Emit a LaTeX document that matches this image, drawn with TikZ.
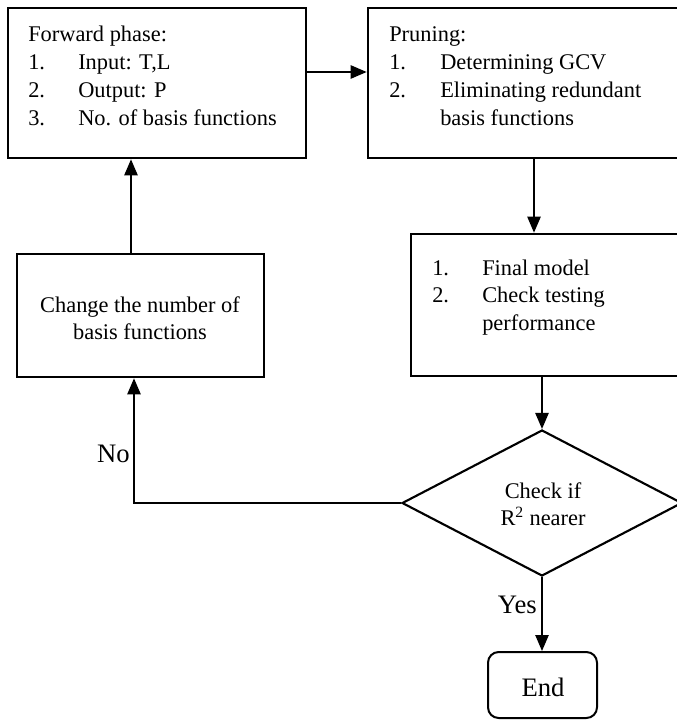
\documentclass[tikz,border=0pt]{standalone}
\usepackage{fontspec}
\setmainfont{Liberation Serif}
\usetikzlibrary{arrows.meta,shapes.geometric,fit}
\begin{document}
\begin{tikzpicture}[x=0.75pt,y=-0.75pt,
  box/.style={draw, line width=2pt, inner sep=0pt},
  conn/.style={line width=1.1pt},
  arr/.style={conn, -{Triangle[length=12pt,width=10pt]}},
  txt/.style={inner sep=0pt, font=\fontsize{16.8}{20.8}\selectfont},
  big/.style={inner sep=0pt, font=\fontsize{20}{24}\selectfont},
  lbl/.style={txt, anchor=base west},
  ctr/.style={txt, anchor=base}]
\clip (0,0) rectangle (677,720);

% process boxes
\node[box, fit={(8,8) (306,158)}] (fwd) {};
\node[box, fit={(368,8) (700,158)}] (prune) {};
\node[box, fit={(411,234) (700,376)}] (final) {};
\node[box, fit={(17,254) (264,377)}] (change) {};
\node[draw, line width=1.6pt, shape=diamond, inner sep=0pt,
      minimum width=210pt, minimum height=109.5pt] (dia) at (542,503) {};
\node[draw, line width=1.5pt, rounded corners=8pt, inner sep=0pt,
      fit={(488,652) (597,718)}] (stop) {};

% box texts
\node[lbl] (fwdtext) at (28,42) {\begin{tabular}[t]{@{}l@{}}
  Forward phase:\\
  \makebox[37.5pt][l]{1.}Input: T,L\\
  \makebox[37.5pt][l]{2.}Output: P\\
  \makebox[37.5pt][l]{3.}No. of basis functions
\end{tabular}};
\node[lbl] (prunetext) at (389,42) {\begin{tabular}[t]{@{}l@{}}
  Pruning:\\
  \makebox[38.25pt][l]{1.}Determining GCV\\
  \makebox[38.25pt][l]{2.}Eliminating redundant\\
  \hspace*{38.25pt}basis functions
\end{tabular}};
\node[lbl] (finaltext) at (432,275) {\begin{tabular}[t]{@{}l@{}}
  \makebox[37.5pt][l]{1.}Final model\\
  \makebox[37.5pt][l]{2.}Check testing\\
  \hspace*{37.5pt}performance
\end{tabular}};
\node[ctr] (changetext) at (140,312) {\begin{tabular}[t]{@{}c@{}}
  Change the number of\\ basis functions
\end{tabular}};
\node[ctr] (diatext) at (543,498) {\begin{tabular}[t]{@{}c@{}}
  Check if\\ R\textsuperscript{2} nearer
\end{tabular}};
\node[big, anchor=base] (stoptext) at (543,696) {End};

% connectors
\coordinate (noturn) at (134,503);
\draw[arr] ([yshift=8.25pt]fwd.east) -- ([yshift=8.25pt]fwd.east -| prune.west);
\draw[arr] (prune.south -| 534,0) -- (final.north -| 534,0);
\draw[arr] (final.south -| dia.north) -- (dia.north);
\draw[arr] (dia.south) -- (stop.north -| dia.south);
\draw[arr] (dia.west) -- (noturn) -- (noturn |- change.south);
\draw[arr] (change.north -| 131,0) -- (fwd.south -| 131,0);

% branch labels
\node[big, anchor=base east] (nolbl) at (130,462) {No};
\node[big, anchor=base east] (yeslbl) at (537,613) {Yes};
\end{tikzpicture}
\end{document}
